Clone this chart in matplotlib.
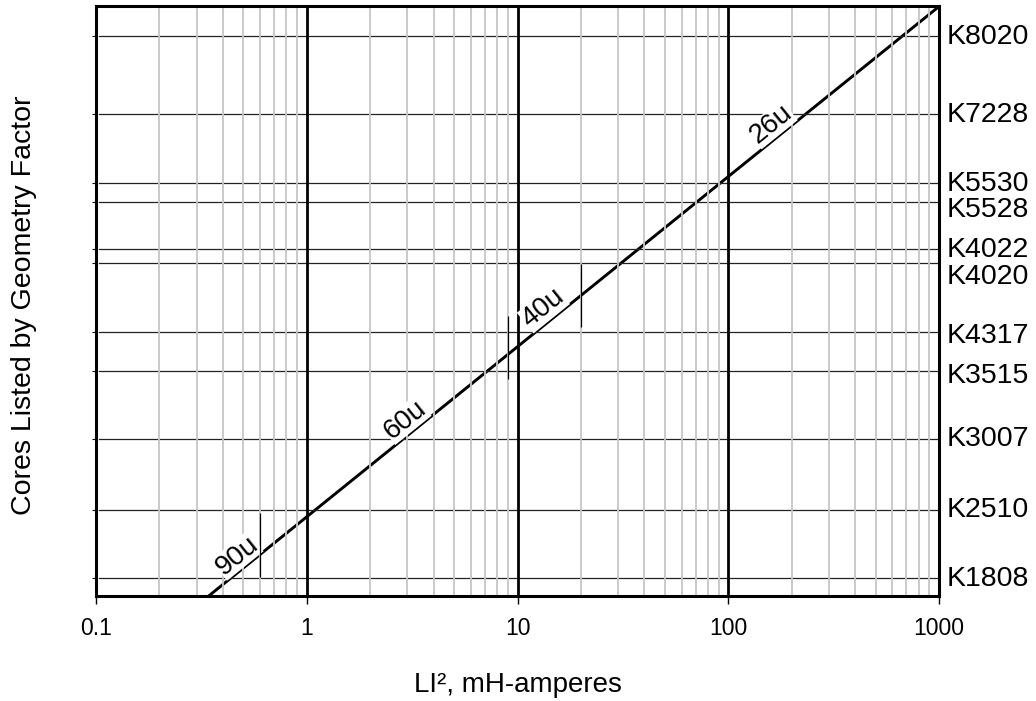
import numpy as np
import matplotlib
matplotlib.use("Agg")
import matplotlib.pyplot as plt
from matplotlib.ticker import LogLocator, NullLocator, FixedLocator, NullFormatter

# cores, listed by the LI^2 value where their line meets the selection curve
cores = ["K8020", "K7228", "K5530", "K5528", "K4022", "K4020",
         "K4317", "K3515", "K3007", "K2510", "K1808"]
core_li2 = [671, 233, 91.7, 70.9, 37.5, 31.0, 12.2, 7.2, 2.87, 1.10, 0.437]
# small vertical nudges (points) so the crowded names don't collide
label_nudge = [-1, -1, -1, -6, -0.5, -10, -3, -3.5, 0, -0.5, -0.5]

# selection curve (diagonal on the log-log grid)
curve_x = [0.34, 1000]
curve_y = [0.34, 1000]

# permeability bands along the curve
perm_labels = ["90u", "60u", "40u", "26u"]
perm_label_x = [0.51, 3.2, 14.5, 175]

# boundaries between permeability bands
bound_x = [0.6, 9, 20]
bound_ymin = [0.443, 6.46, 13.1]
bound_ymax = [1.05, 15.2, 30.6]

xticks = [0.1, 1, 10, 100, 1000]
xticklabels = ["0.1", "1", "10", "100", "1000"]

plt.rcParams['font.family'] = ['Liberation Sans', 'DejaVu Sans']

fig = plt.figure(figsize=(10.36, 7.01), dpi=100)
ax = fig.add_axes([0.0927, 0.1491, 0.8137, 0.8417])
ax.set_xscale('log')
ax.set_yscale('log')
ax.set_xlim(0.1, 1000)
ax.set_ylim(0.34, 1000)

# vertical grid: light minor lines, heavy decade lines (drawn over the curve)
ax.xaxis.set_major_locator(FixedLocator(xticks))
ax.set_xticklabels(xticklabels)
ax.xaxis.set_minor_locator(LogLocator(base=10, subs=np.arange(2, 10)))
ax.xaxis.set_minor_formatter(NullFormatter())
ax.grid(which='minor', axis='x', color='#c6c6c6', lw=1.3)
ax.grid(which='major', axis='x', color='black', lw=2.0)
ax.set_axisbelow(False)

# one horizontal line per core
for y in core_li2:
    ax.axhline(y, xmin=0.003, xmax=0.997, color='#222222', lw=0.9, zorder=2)

ax.yaxis.set_major_locator(FixedLocator(core_li2))
ax.yaxis.set_minor_locator(NullLocator())
ax.yaxis.set_major_formatter(NullFormatter())

ax.plot(curve_x, curve_y, color='black', lw=2.1, zorder=1.5)
ax.vlines(bound_x, bound_ymin, bound_ymax, color='black', lw=0.9, zorder=4)

# angle of the curve on screen
p0 = ax.transData.transform((curve_x[0], curve_y[0]))
p1 = ax.transData.transform((curve_x[1], curve_y[1]))
angle = np.degrees(np.arctan2(p1[1] - p0[1], p1[0] - p0[0]))

for lab, x in zip(perm_labels, perm_label_x):
    ax.annotate(lab, (x, x), xytext=(0, 0.5), textcoords='offset points',
                rotation=angle, rotation_mode='anchor', ha='center', va='bottom',
                fontsize=20, zorder=3,
                bbox=dict(facecolor='white', edgecolor='none', pad=0.3))

for name, y, dy in zip(cores, core_li2, label_nudge):
    ax.annotate(name, xy=(1, y), xycoords=('axes fraction', 'data'),
                xytext=(5.5, dy), textcoords='offset points',
                ha='left', va='center', fontsize=20.5, annotation_clip=False)

for sp in ax.spines.values():
    sp.set_linewidth(2.2)
    sp.set_zorder(5)

ax.tick_params(axis='x', which='major', length=6, width=1, direction='out',
               pad=9, labelsize=16.5)
ax.tick_params(axis='x', which='minor', length=0)
ax.tick_params(axis='y', which='major', length=3, width=0.8, direction='out',
               left=True, right=False, labelleft=False)

ax.set_xlabel('LI², mH-amperes', fontsize=20)
ax.xaxis.set_label_coords(0.5, -0.128)
ax.set_ylabel('Cores Listed by Geometry Factor', fontsize=20.5, va='center')
ax.yaxis.set_label_coords(-0.0854, 0.494)

fig.savefig('out.png', dpi=100)
